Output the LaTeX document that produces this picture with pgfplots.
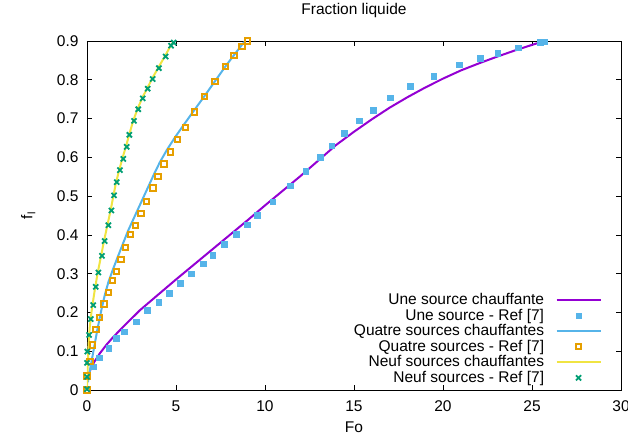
\documentclass[border=0pt]{standalone}
\usepackage{fontspec}
\setmainfont{Liberation Sans}
\usepackage{pgfplots}
\pgfplotsset{compat=1.18}
\definecolor{cpurple}{HTML}{9400D3}
\definecolor{clblue}{HTML}{56B4E9}
\definecolor{corange}{HTML}{E69F00}
\definecolor{cyellow}{HTML}{F0E442}
\definecolor{cgreen}{HTML}{009E73}
\begin{document}
\begin{tikzpicture}
\path[use as bounding box] (-87bp,-48bp) rectangle (541bp,390bp);
\begin{axis}[
  at={(0,0)}, anchor=south west,
  scale only axis, width=534bp, height=349bp,
  xmin=0, xmax=30, ymin=0, ymax=0.9,
  xtick={0,5,...,30},
  ytick={0,0.1,...,0.9},
  yticklabel style={/pgf/number format/fixed, /pgf/number format/precision=1, xshift=-5bp},
  xticklabel style={yshift=-7bp},
  /pgf/number format/assume math mode=true,
  font=\fontsize{15.5bp}{17bp}\selectfont,
  tick align=inside,
  major tick length=5bp,
  axis line style={line width=0.9bp},
  every tick/.style={black, line width=0.7bp},
  title={Fraction liquide},
  title style={at={(axis description cs:0.5,1.069)}, anchor=center},
  xlabel={Fo},
  xlabel style={at={(axis description cs:0.5,-0.106)}, anchor=center},
  ylabel={f\textsubscript{l}},
  ylabel style={at={(axis description cs:-0.110,0.5)}, anchor=center},
  legend cell align=right,
  legend plot pos=right,
  legend style={draw=none, fill=none, at={(rel axis cs:0.964,0.012)}, anchor=south east,
    inner sep=0pt, row sep=0pt, column sep=11bp,
    nodes={text height=11.5bp, text depth=3bp, inner sep=0.5bp}},
  legend image code/.code={\draw[mark repeat=2,mark phase=2,#1] plot coordinates {(0bp,0bp) (22bp,0bp) (44bp,0bp)};},
]
% Une source chauffante
\addplot[cpurple, line width=2bp, no marks] coordinates {
(0.12,0.045) (0.4,0.072) (0.73,0.095) (1.1,0.117) (1.48,0.137) (2.23,0.172) (2.98,0.206) (4,0.246) (5,0.285) (6,0.323) (7,0.361) (8,0.399) (9,0.437) (10,0.476) (11,0.514) (12,0.552) (13,0.592) (14,0.632) (15,0.666) (16,0.698) (17,0.728) (18,0.755) (19,0.780) (20,0.803) (21,0.824) (22,0.842) (23,0.859) (24,0.875) (25,0.890) (25.7,0.900)};
\addlegendentry{Une source chauffante}
% Une source - Ref [7]
\addplot[only marks, mark=square*, mark size=2.8bp, color=clblue] coordinates {
(0.35,0.060) (0.67,0.083) (1.22,0.108) (1.63,0.134) (2.10,0.150) (2.75,0.176) (3.37,0.206) (4.03,0.226) (4.61,0.250) (5.22,0.275) (5.84,0.300) (6.53,0.326) (7.06,0.347) (7.70,0.376) (8.37,0.402) (8.99,0.426) (9.57,0.451) (10.43,0.486) (11.40,0.527) (12.29,0.564) (13.11,0.600) (13.75,0.630) (14.46,0.662) (15.30,0.694) (16.07,0.722) (17.02,0.754) (18.16,0.783) (19.48,0.810) (20.92,0.839) (22.10,0.855) (23.07,0.869) (24.23,0.883) (25.45,0.897) (25.69,0.898)};
\addlegendentry{Une source - Ref [7]}
% Quatre sources chauffantes
\addplot[clblue, line width=2bp, no marks] coordinates {
(0.05,0.02) (0.2,0.06) (0.4,0.11) (0.6,0.16) (0.8,0.205) (1.0,0.245) (1.2,0.278) (1.45,0.31) (1.7,0.34) (2.0,0.375) (2.3,0.41) (2.6,0.44) (2.9,0.47) (3.2,0.5) (3.5,0.53) (3.8,0.56) (4.1,0.588) (4.5,0.62) (4.95,0.652) (5.5,0.688) (6.0,0.72) (6.6,0.758) (7.2,0.797) (7.8,0.836) (8.3,0.866) (8.7,0.89) (8.9,0.9)};
\addlegendentry{Quatre sources chauffantes}
% Quatre sources - Ref [7]
\addplot[only marks, mark=square, mark size=2.6bp, color=corange, mark options={line width=2bp, fill=white}] coordinates {
(0,0) (0.0,0.036) (0.17,0.073) (0.32,0.116) (0.51,0.157) (0.69,0.187) (0.96,0.222) (1.20,0.251) (1.42,0.282) (1.65,0.306) (1.91,0.337) (2.17,0.367) (2.46,0.400) (2.71,0.424) (3.03,0.456) (3.33,0.486) (3.71,0.521) (3.99,0.551) (4.33,0.583) (4.68,0.614) (5.07,0.646) (5.52,0.677) (6.03,0.717) (6.59,0.756) (7.19,0.795) (7.79,0.834) (8.26,0.862) (8.71,0.885) (9.02,0.900)};
\addlegendentry{Quatre sources - Ref [7]}
% Neuf sources chauffantes
\addplot[cyellow, line width=2bp, no marks] coordinates {
(0.0,0.0) (0.03,0.05) (0.08,0.11) (0.15,0.16) (0.25,0.2) (0.35,0.232) (0.45,0.262) (0.6,0.302) (0.8,0.348) (0.95,0.383) (1.15,0.426) (1.33,0.464) (1.48,0.5) (1.63,0.535) (1.82,0.569) (2.0,0.599) (2.2,0.63) (2.38,0.66) (2.6,0.695) (2.85,0.726) (3.1,0.753) (3.38,0.778) (3.66,0.803) (4.0,0.831) (4.38,0.861) (4.7,0.888) (4.88,0.9)};
\addlegendentry{Neuf sources chauffantes}
% Neuf sources - Ref [7]
\addplot[only marks, mark=x, mark size=3.6bp, color=cgreen, mark options={line width=1.8bp}] coordinates {
(0,0.002) (0,0.034) (0.0,0.070) (0.02,0.099) (0.12,0.142) (0.21,0.183) (0.35,0.219) (0.49,0.266) (0.64,0.303) (0.84,0.346) (0.99,0.384) (1.20,0.425) (1.37,0.463) (1.52,0.502) (1.67,0.536) (1.85,0.567) (2.04,0.596) (2.23,0.627) (2.38,0.658) (2.64,0.694) (2.88,0.724) (3.13,0.752) (3.41,0.777) (3.69,0.802) (4.04,0.830) (4.42,0.860) (4.72,0.888) (4.87,0.896)};
\addlegendentry{Neuf sources - Ref [7]}
\end{axis}
\end{tikzpicture}
\end{document}
